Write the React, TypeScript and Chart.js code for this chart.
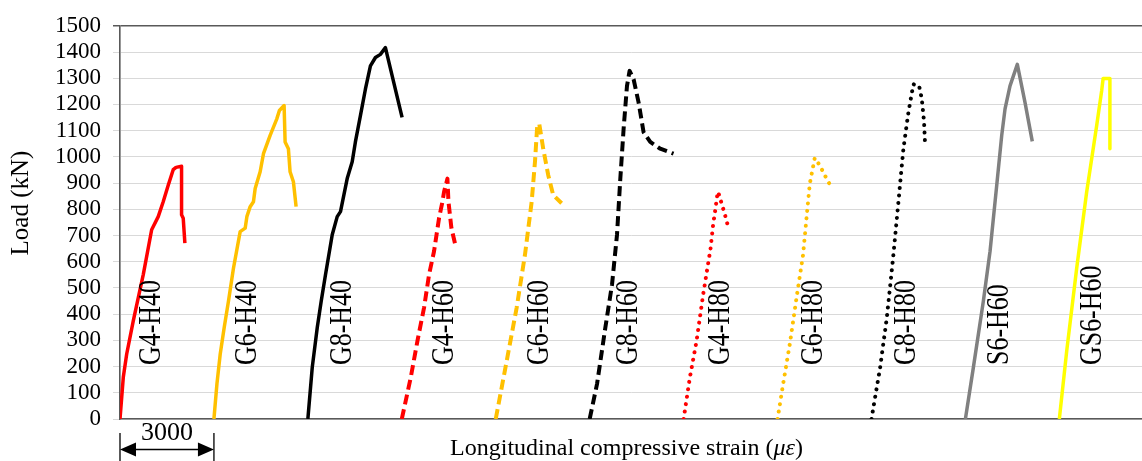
import React, { useEffect, useRef } from "react";
import { Chart, registerables } from "chart.js";

Chart.register(...registerables);

// Specimen names (each curve is shifted by 3000 με along the strain axis)
const specimens = ["G4-H40", "G6-H40", "G8-H40", "G4-H60", "G6-H60", "G8-H60", "G4-H80", "G6-H80", "G8-H80", "S6-H60", "GS6-H60"];
const strainShift = 3000;
const yTicksMax = 1500;
const yTickStep = 100;

// Relative strain (με) and load (kN) for each specimen
const g4h40Strain = [0, 105, 214, 424, 743, 1011, 1221, 1380, 1540, 1699, 1790, 1966, 1966, 2019, 2072];
const g4h40Load = [0, 159, 248, 374, 551, 722, 772, 829, 892, 951, 960, 964, 779, 766, 671];

const g6h40Strain = [0, 96, 201, 328, 465, 625, 838, 998, 1052, 1157, 1262, 1317, 1476, 1582, 1795, 2008, 2091, 2241, 2273, 2378, 2432, 2538, 2624];
const g6h40Load = [0, 134, 248, 349, 450, 576, 715, 728, 772, 810, 829, 879, 943, 1012, 1082, 1145, 1177, 1196, 1057, 1031, 943, 905, 810];

const g8h40Strain = [0, 140, 300, 427, 564, 778, 937, 1042, 1256, 1416, 1518, 1680, 1839, 1998, 2158, 2317, 2477, 3009];
const g8h40Load = [0, 197, 349, 450, 551, 703, 772, 791, 917, 981, 1057, 1158, 1259, 1347, 1379, 1391, 1417, 1151];

const g4h60Strain = [0, 287, 500, 711, 871, 1030, 1189, 1298, 1350, 1457, 1490, 1585, 1722];
const g4h60Load = [0, 159, 298, 425, 551, 640, 766, 829, 867, 917, 829, 728, 658];

const g6h60Strain = [0, 351, 669, 934, 1148, 1253, 1326, 1390, 1517, 1677, 1836, 2104];
const g6h60Load = [0, 222, 425, 627, 829, 981, 1120, 1126, 1031, 930, 854, 823];

const g8h60Strain = [0, 236, 501, 714, 873, 979, 1084, 1192, 1275, 1403, 1562, 1722, 1935, 2254, 2678];
const g8h60Load = [0, 134, 349, 513, 703, 917, 1107, 1271, 1328, 1296, 1208, 1094, 1057, 1031, 1012];

const g4h80Strain = [0, 201, 414, 625, 860, 944, 1020, 1052, 1093, 1136, 1211, 1285, 1359, 1423];
const g4h80Load = [0, 159, 298, 475, 650, 743, 804, 835, 867, 854, 823, 794, 763, 732];

const g6h80Strain = [0, 179, 392, 606, 816, 925, 1030, 1189, 1348, 1508, 1667];
const g6h80Load = [0, 134, 286, 462, 627, 766, 898, 996, 968, 930, 895];

const g8h80Strain = [0, 277, 491, 701, 861, 1020, 1180, 1339, 1521, 1607, 1680, 1712];
const g8h80Load = [0, 197, 387, 627, 829, 1031, 1170, 1277, 1271, 1221, 1132, 1050];

const s6h60Strain = [0, 255, 574, 787, 1001, 1160, 1266, 1425, 1658, 1903, 2136];
const s6h60Load = [0, 197, 450, 640, 892, 1082, 1183, 1271, 1353, 1208, 1059];

const gs6h60Strain = [0, 236, 555, 874, 1193, 1352, 1398, 1615, 1615];
const gs6h60Load = [0, 260, 576, 867, 1120, 1252, 1299, 1299, 1031];

const strainSeries = [g4h40Strain, g6h40Strain, g8h40Strain, g4h60Strain, g6h60Strain, g8h60Strain, g4h80Strain, g6h80Strain, g8h80Strain, s6h60Strain, gs6h60Strain];
const loadSeries = [g4h40Load, g6h40Load, g8h40Load, g4h60Load, g6h60Load, g8h60Load, g4h80Load, g6h80Load, g8h80Load, s6h60Load, gs6h60Load];

// Styles
const RED = "#FF0000";
const ORANGE = "#FFC000";
const BLACK = "#000000";
const GRAY = "#808080";
const YELLOW = "#FFFF00";
const seriesColors = [RED, ORANGE, BLACK, RED, ORANGE, BLACK, RED, ORANGE, BLACK, GRAY, YELLOW];
const SOLID: number[] = [];
const DASH = [10, 5];
const DOT = [0.01, 7.5];
const seriesDash = [SOLID, SOLID, SOLID, DASH, DASH, DASH, DOT, DOT, DOT, SOLID, SOLID];
const seriesWidth = [3.5, 3.5, 3.5, 4, 4, 4, 4, 4, 4, 3.5, 3.5];
// Label anchor offsets (px from each curve's origin)
const labelDx = [40, 42, 43, 51, 52, 47, 45, 44, 44, 43, 42];

const FONT = '"Liberation Serif", "Times New Roman", Times, serif';

const annotationPlugin = {
  id: "annotations",
  afterDatasetsDraw(chart: any) {
    const ctx = chart.ctx;
    const xs = chart.scales.x;
    const ys = chart.scales.y;
    const y0 = ys.getPixelForValue(0);
    ctx.save();
    ctx.fillStyle = "#000";
    ctx.font = `32px ${FONT}`;
    ctx.textAlign = "left";
    ctx.textBaseline = "alphabetic";
    specimens.forEach((name, i) => {
      const px = xs.getPixelForValue(i * strainShift) + labelDx[i];
      const py = y0 - 54;
      ctx.save();
      ctx.translate(px, py);
      ctx.rotate(-Math.PI / 2);
      ctx.scale(0.81, 1);
      ctx.fillText(name, 0, 0);
      ctx.restore();
    });
    ctx.restore();
  },
  afterDraw(chart: any) {
    const ctx = chart.ctx;
    const xs = chart.scales.x;
    const xa = xs.getPixelForValue(0);
    const xb = xs.getPixelForValue(strainShift);
    ctx.save();
    ctx.fillStyle = "#000";
    ctx.strokeStyle = "#000";
    // y title
    ctx.font = `25px ${FONT}`;
    ctx.textAlign = "center";
    ctx.textBaseline = "middle";
    ctx.save();
    ctx.translate(21, 203);
    ctx.rotate(-Math.PI / 2);
    ctx.fillText("Load (kN)", 0, 0);
    ctx.restore();
    // x title with italic με
    const p1 = "Longitudinal compressive strain (";
    const p2 = "\u03BC\u03B5";
    const p3 = ")";
    ctx.textBaseline = "alphabetic";
    ctx.textAlign = "left";
    ctx.font = `24px ${FONT}`;
    const w1 = ctx.measureText(p1).width;
    const w3 = ctx.measureText(p3).width;
    ctx.font = `italic 24px ${FONT}`;
    const w2 = ctx.measureText(p2).width;
    let tx = 626.5 - (w1 + w2 + w3) / 2;
    const ty = 455;
    ctx.font = `24px ${FONT}`;
    ctx.fillText(p1, tx, ty);
    tx += w1;
    ctx.font = `italic 24px ${FONT}`;
    ctx.fillText(p2, tx, ty);
    tx += w2;
    ctx.font = `24px ${FONT}`;
    ctx.fillText(p3, tx, ty);
    // dimension "3000"
    ctx.font = `26px ${FONT}`;
    ctx.textAlign = "center";
    ctx.fillText(String(strainShift), (xa + xb) / 2, 440);
    ctx.lineWidth = 1.3;
    ctx.beginPath();
    ctx.moveTo(xa, 433);
    ctx.lineTo(xa, 461);
    ctx.moveTo(xb, 433);
    ctx.lineTo(xb, 461);
    ctx.moveTo(xa + 10, 449.5);
    ctx.lineTo(xb - 10, 449.5);
    ctx.stroke();
    ctx.beginPath();
    ctx.moveTo(xa, 449.5);
    ctx.lineTo(xa + 16, 442.5);
    ctx.lineTo(xa + 16, 456.5);
    ctx.closePath();
    ctx.moveTo(xb, 449.5);
    ctx.lineTo(xb - 16, 442.5);
    ctx.lineTo(xb - 16, 456.5);
    ctx.closePath();
    ctx.fill();
    ctx.restore();
  },
};

export default function App() {
  const ref = useRef<HTMLCanvasElement | null>(null);
  useEffect(() => {
    if (!ref.current) return;
    const datasets = specimens.map((name, i) => ({
      label: name,
      data: strainSeries[i].map((s, j) => ({ x: i * strainShift + s, y: loadSeries[i][j] })),
      borderColor: seriesColors[i],
      backgroundColor: seriesColors[i],
      borderWidth: seriesWidth[i],
      borderDash: seriesDash[i],
      borderCapStyle: seriesDash[i] === DOT ? "round" : "butt",
      borderJoinStyle: "round",
      pointRadius: 0,
      tension: 0,
      fill: false,
    }));
    const chart = new Chart(ref.current, {
      type: "line",
      data: { datasets } as any,
      options: {
        animation: false,
        responsive: false,
        layout: { padding: { top: 23, right: 0, left: 0, bottom: 0 } },
        plugins: { legend: { display: false }, tooltip: { enabled: false } },
        scales: {
          x: {
            type: "linear",
            min: 0,
            max: 32640,
            ticks: { display: false, stepSize: strainShift },
            afterBuildTicks: (scale: any) => {
              scale.ticks = scale.ticks.filter((t: any) => t.value % strainShift === 0);
            },
            afterFit: (scale: any) => {
              scale.height = 42;
            },
            grid: { color: "#D9D9D9", lineWidth: 1, drawTicks: false },
            border: { color: "#595959", width: 1.5 },
          },
          y: {
            min: 0,
            max: yTicksMax,
            ticks: {
              stepSize: yTickStep,
              autoSkip: false,
              color: "#000",
              font: { family: FONT, size: 23 },
              padding: 12,
              callback: (v: any) => String(v),
            },
            afterFit: (scale: any) => {
              scale.width = 120;
            },
            grid: {
              color: (c: any) => (c.tick && c.tick.value === yTicksMax ? "#595959" : "#D9D9D9"),
              lineWidth: (c: any) => (c.tick && c.tick.value === yTicksMax ? 1.5 : 1),
              tickLength: 7,
            },
            border: { color: "#595959", width: 1.5 },
          },
        },
      } as any,
      plugins: [annotationPlugin],
    });
    return () => chart.destroy();
  }, []);
  return (
    <div style={{ position: "fixed", left: 0, top: 0, width: 1142, height: 461, background: "#fff" }}>
      <canvas ref={ref} width={1142} height={461} style={{ display: "block" }} />
    </div>
  );
}
